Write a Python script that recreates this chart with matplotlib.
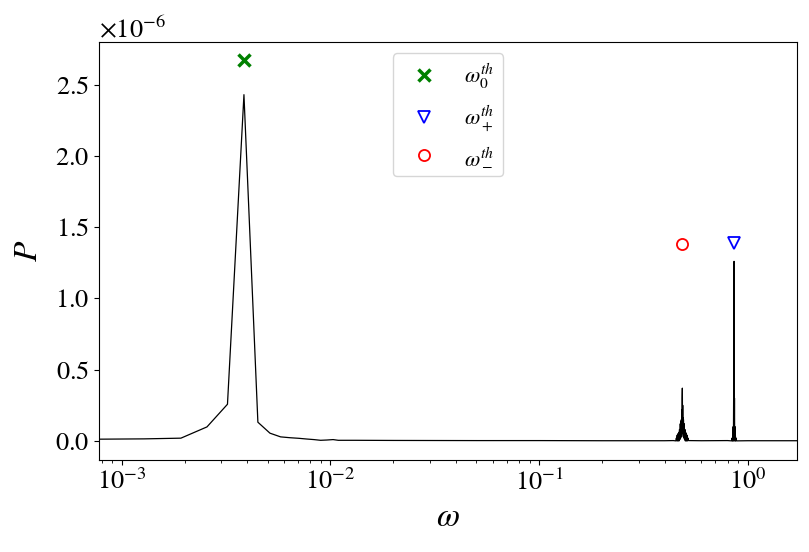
import matplotlib
matplotlib.use("Agg")
import matplotlib.pyplot as plt
from matplotlib.ticker import ScalarFormatter

plt.rcParams["font.family"] = "STIXGeneral"
plt.rcParams["mathtext.fontset"] = "stix"

# power spectrum (P in units of 1e-6)
omega = [0.000641, 0.00128, 0.00192, 0.00256, 0.00321, 0.00385, 0.00449,
         0.00513, 0.00577, 0.00641, 0.00705, 0.00769, 0.00833, 0.00897,
         0.00962, 0.0103, 0.0109, 0.013, 0.02, 0.05, 0.1, 0.2, 0.4, 0.44,
         # side band near 0.49
         0.452, 0.455, 0.457, 0.459, 0.461, 0.463, 0.465, 0.467, 0.469,
         0.471, 0.473, 0.475, 0.477, 0.479, 0.480, 0.481, 0.482, 0.483,
         0.484, 0.485, 0.486, 0.487, 0.488, 0.489, 0.490, 0.491, 0.492,
         0.494, 0.496, 0.498, 0.500, 0.502, 0.504, 0.506, 0.508, 0.510,
         0.512, 0.514, 0.517, 0.52,
         0.6, 0.8,
         # main peak near 0.86
         0.838, 0.842, 0.845, 0.848, 0.850, 0.852, 0.854, 0.856, 0.858,
         0.859, 0.8595, 0.860, 0.8605, 0.861, 0.862, 0.864, 0.866, 0.868,
         0.870, 0.872, 0.875, 0.879, 0.884,
         1.0, 1.5, 2.0]
power = [0.011, 0.014, 0.019, 0.098, 0.257, 2.43, 0.131,
         0.054, 0.028, 0.022, 0.018, 0.013, 0.009, 0.004,
         0.006, 0.009, 0.004, 0.004, 0.003, 0.002, 0.002, 0.001, 0.001, 0.002,
         0.0, 0.02, 0.0, 0.04, 0.0, 0.05, 0.0, 0.06, 0.0,
         0.08, 0.01, 0.12, 0.02, 0.14, 0.03, 0.15, 0.05, 0.22,
         0.06, 0.30, 0.37, 0.08, 0.25, 0.05, 0.16, 0.03, 0.15,
         0.02, 0.12, 0.01, 0.08, 0.0, 0.06, 0.0, 0.05, 0.0,
         0.04, 0.0, 0.02, 0.002,
         0.001, 0.002,
         0.0, 0.02, 0.0, 0.05, 0.0, 0.10, 0.0, 0.30, 0.02,
         0.40, 0.05, 1.26, 0.10, 0.40, 0.02, 0.30, 0.0, 0.10,
         0.0, 0.05, 0.0, 0.02, 0.0,
         0.001, 0.001, 0.001]

# theoretical frequencies (markers)
w0_th = (0.00385, 2.67)
wp_th = (0.860, 1.39)
wm_th = (0.484, 1.384)

scale = 1e-6

fig, ax = plt.subplots(figsize=(8.09, 5.52), dpi=100)
fig.subplots_adjust(left=0.122, right=0.985, top=0.924, bottom=0.167)

ax.plot(omega, [p * scale for p in power], color="black", lw=0.9)
ax.plot(w0_th[0], w0_th[1] * scale, "x", color="green", ms=8, mew=2.5,
        ls="none", label=r"$\omega_0^{th}$")
ax.plot(wp_th[0], wp_th[1] * scale, "v", mfc="none", mec="blue", ms=8,
        mew=1.3, ls="none", label=r"$\omega_+^{th}$")
ax.plot(wm_th[0], wm_th[1] * scale, "o", mfc="none", mec="red", ms=8,
        mew=1.3, ls="none", label=r"$\omega_-^{th}$")

ax.set_xscale("log")
ax.set_xlim(7.75e-4, 1.72)
ax.set_ylim(-0.133e-6, 2.80e-6)
fmt = ScalarFormatter(useMathText=True)
fmt.set_powerlimits((0, 0))
ax.yaxis.set_major_formatter(fmt)
ax.set_xlabel(r"$\omega$", fontsize=24, labelpad=6)
ax.set_ylabel(r"$P$", fontsize=24, labelpad=8)
ax.tick_params(labelsize=19)
ax.yaxis.get_offset_text().set_fontsize(19)

ax.legend(loc="upper center", fontsize=16, labelspacing=0.55)

fig.savefig("out.png", dpi=100)
